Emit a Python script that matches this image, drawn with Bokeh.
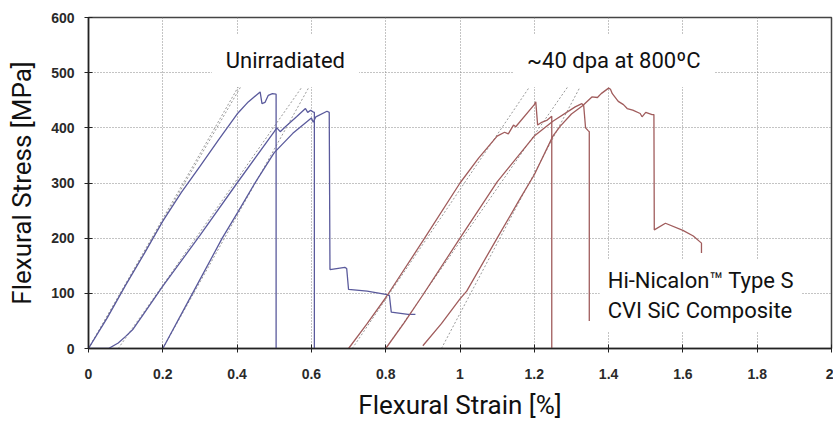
from bokeh.plotting import figure
from bokeh.models import Label, Range1d, ColumnDataSource
from bokeh.embed import file_html
from bokeh.resources import INLINE

# ---- data ----
u1_x = [0.0, 0.05, 0.1, 0.15, 0.2, 0.25, 0.3, 0.35, 0.4, 0.43, 0.462, 0.467, 0.475, 0.484, 0.495, 0.505, 0.505]
u1_y = [0, 55, 115, 172, 231, 283, 330, 378, 425, 447, 465, 444, 446, 459, 462, 461, 0]

u2_x = [0.0, 0.054, 0.08, 0.1, 0.12, 0.15, 0.2, 0.3, 0.4, 0.5, 0.507, 0.516, 0.53, 0.56, 0.584, 0.59, 0.598, 0.604, 0.608, 0.608]
u2_y = [0, 0, 10, 22, 35, 64, 113, 205, 300, 393, 400, 393, 402, 420, 435, 428, 432, 429, 428, 0]

u3_x = [0.2, 0.28, 0.36, 0.4, 0.45, 0.5, 0.55, 0.6, 0.605, 0.612, 0.642, 0.648, 0.65, 0.69, 0.695, 0.7, 0.75, 0.8, 0.81, 0.815, 0.86, 0.88]
u3_y = [0, 100, 200, 245, 302, 355, 390, 418, 410, 420, 430, 428, 143, 147, 145, 107, 104, 98, 96, 66, 62, 62]

i1_x = [0.7, 0.75, 0.8, 0.9, 1.0, 1.05, 1.1, 1.12, 1.13, 1.144, 1.15, 1.2, 1.204, 1.209, 1.22, 1.235, 1.247, 1.247]
i1_y = [0, 45, 92, 195, 300, 345, 385, 392, 389, 405, 402, 442, 447, 405, 410, 414, 421, 0]

i2_x = [0.8, 0.85, 0.9, 1.0, 1.1, 1.2, 1.25, 1.31, 1.328, 1.333, 1.338, 1.345, 1.348, 1.348]
i2_y = [0, 47, 97, 200, 302, 385, 412, 438, 444, 440, 400, 395, 393, 50]

i3_x = [0.9, 0.95, 1.0, 1.018, 1.1, 1.162, 1.2, 1.25, 1.27, 1.3, 1.33, 1.355, 1.37, 1.38, 1.4, 1.405, 1.41, 1.426, 1.44, 1.45, 1.465, 1.485, 1.49, 1.5, 1.517, 1.522, 1.523, 1.553, 1.6, 1.628, 1.65, 1.65]
i3_y = [5, 45, 90, 104, 200, 272, 315, 385, 403, 425, 440, 456, 455, 462, 472, 470, 462, 448, 442, 435, 432, 426, 420, 428, 424, 424, 215, 227, 214, 204, 191, 173]

# linear-fit (dotted) guide lines: start strain, end strain, end stress
guide_x0 = [0.0, 0.0, 0.08, 0.2, 0.71, 0.8, 0.95]
guide_x1 = [0.408, 0.418, 0.585, 0.602, 1.197, 1.3, 1.331]
guide_y1 = [480, 484, 484, 484, 484, 484, 484]

x_ticks = [0, 0.2, 0.4, 0.6, 0.8, 1, 1.2, 1.4, 1.6, 1.8, 2]
y_ticks = [0, 100, 200, 300, 400, 500, 600]

BLUE = "#5a5a9c"
RED = "#a05c5c"
FONT = "Roboto"

p = figure(width=833, height=422, output_backend="svg", toolbar_location=None,
           x_range=Range1d(0, 2), y_range=Range1d(0, 600),
           min_border_left=88, min_border_right=2, min_border_top=17, min_border_bottom=71)
p.background_fill_color = "white"
p.border_fill_color = "white"
p.outline_line_color = "#444444"
p.outline_line_width = 1.5

# grids
for g in (p.xgrid, p.ygrid):
    g.grid_line_color = "#888888"
    g.grid_line_dash = "1 2"
    g.grid_line_width = 1

# axes
p.xaxis.ticker = x_ticks
p.yaxis.ticker = y_ticks
p.xaxis.ticker.num_minor_ticks = 5
p.yaxis.ticker.num_minor_ticks = 5
p.xaxis.major_label_overrides = {0: "0", 1: "1", 2: "2"}
for ax in (p.xaxis[0], p.yaxis[0]):
    ax.axis_line_color = "#222222"
    ax.axis_line_width = 1.5
    ax.major_tick_line_color = "#222222"
    ax.minor_tick_line_color = "#222222"
    ax.major_tick_in = 4
    ax.major_tick_out = 4
    ax.minor_tick_in = 3
    ax.minor_tick_out = 1
    ax.major_label_text_font = "Liberation Sans"
    ax.major_label_text_font_style = "bold"
    ax.major_label_text_font_size = "14px"
    ax.major_label_text_color = "#2a2a2a"
    ax.axis_label_text_font = FONT
    ax.axis_label_text_font_style = "normal"
    ax.axis_label_text_font_size = "26px"
    ax.axis_label_text_color = "#111111"
p.xaxis.axis_label = "Flexural Strain [%]"
p.yaxis.axis_label = "Flexural Stress [MPa]"
p.xaxis.major_label_standoff = 16
p.yaxis.major_label_standoff = 10
p.xaxis.axis_label_standoff = 8
p.yaxis.axis_label_standoff = 11

# guide lines
gsrc = ColumnDataSource(dict(
    xs=[[a, b] for a, b in zip(guide_x0, guide_x1)],
    ys=[[0, c] for c in guide_y1]))
p.multi_line("xs", "ys", source=gsrc, line_color="#999999", line_dash="2 2", line_width=1)

# curves
for xs, ys in ((u1_x, u1_y), (u2_x, u2_y), (u3_x, u3_y)):
    p.line(xs, ys, line_color=BLUE, line_width=1.3)
for xs, ys in ((i1_x, i1_y), (i2_x, i2_y), (i3_x, i3_y)):
    p.line(xs, ys, line_color=RED, line_width=1.3)

# annotations
def lab(x, y, text, size, align="center", baseline="middle", pad=14):
    l = Label(x=x, y=y, text=text, text_font=FONT, text_font_size=size,
              text_align=align, text_baseline=baseline, text_color="#111111",
              background_fill_color="white", padding=pad)
    p.add_layout(l)

lab(0.53, 522, "Unirradiated", "22px", pad=14)
lab(1.414, 522, "~40 dpa at 800\u00baC", "22px", pad=14)
lab(1.376, 96, "Hi-Nicalon\u2122 Type S\nCVI SiC Composite", "22px", align="left", pad=8)

open("out.html", "w").write(file_html(p, INLINE))
